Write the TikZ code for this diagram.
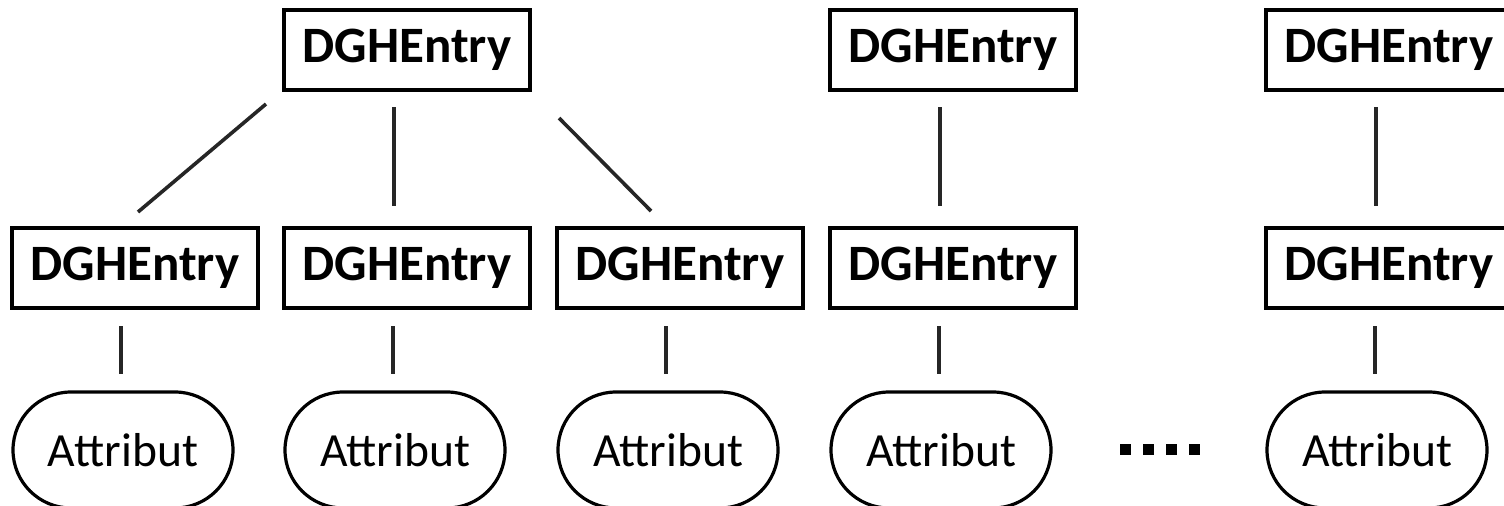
\documentclass[tikz,border=0pt]{standalone}
\usepackage{fontspec}
\setmainfont{Carlito}
\usetikzlibrary{calc,shapes.misc}

\tikzset{
  entry/.style={draw=black, line width=2pt, rectangle, minimum width=123pt,
    minimum height=40pt, inner sep=0pt, font=\fontsize{25.5}{30}\selectfont\bfseries},
  attr/.style={draw=black, line width=1.6pt, rounded rectangle, minimum width=110pt,
    minimum height=58pt, inner sep=0pt, font=\fontsize{23.8}{30}\selectfont},
  link/.style={draw=black!85, line width=1.8pt}
}

\begin{document}
\begin{tikzpicture}[x=0.5pt,y=-0.5pt]
  \useasboundingbox (0,0) rectangle (1504,505);
  \clip (0,0) rectangle (1504,505);

  % upper level entries
  \node[entry] (t1) at (407,50)  {DGHEntry};
  \node[entry] (t2) at (953,50)  {DGHEntry};
  \node[entry] (t3) at (1389,50) {DGHEntry};

  % second level entries
  \node[entry] (m1) at (135,268)  {DGHEntry};
  \node[entry] (m2) at (407,268)  {DGHEntry};
  \node[entry] (m3) at (680,268)  {DGHEntry};
  \node[entry] (m4) at (953,268)  {DGHEntry};
  \node[entry] (m5) at (1389,268) {DGHEntry};

  % attributes
  \node[attr] (a1) at (123,450)  {Attribut};
  \node[attr] (a2) at (395,450)  {Attribut};
  \node[attr] (a3) at (668,450)  {Attribut};
  \node[attr] (a4) at (941,450)  {Attribut};
  \node[attr] (a5) at (1377,450) {Attribut};

  % links between the two entry levels
  \draw[link] ($(t1.south west)+(-16,12)$) -- ($(m1.north west)+(128,-14)$);
  \draw[link] ($(t1.south west)+(112,15)$) -- ($(m2.north west)+(112,-20)$);
  \draw[link] ($(t1.south east)+(27,26)$)  -- ($(m3.north west)+(96,-15)$);
  \draw[link] ($(t2.south west)+(112,15)$) -- ($(m4.north west)+(112,-20)$);
  \draw[link] ($(t3.south west)+(112,15)$) -- ($(m5.north west)+(112,-20)$);

  % links from entries down to attributes
  \foreach \i in {1,...,5}
    \draw[link] ($(m\i.south west)+(111,16)$) -- ($(m\i.south west)+(111,64)$);

  % ellipsis between the last two columns
  \foreach \x in {1120,1143,1166,1189}
    \fill[black] (\x,444) rectangle ++(11,11);
\end{tikzpicture}
\end{document}
